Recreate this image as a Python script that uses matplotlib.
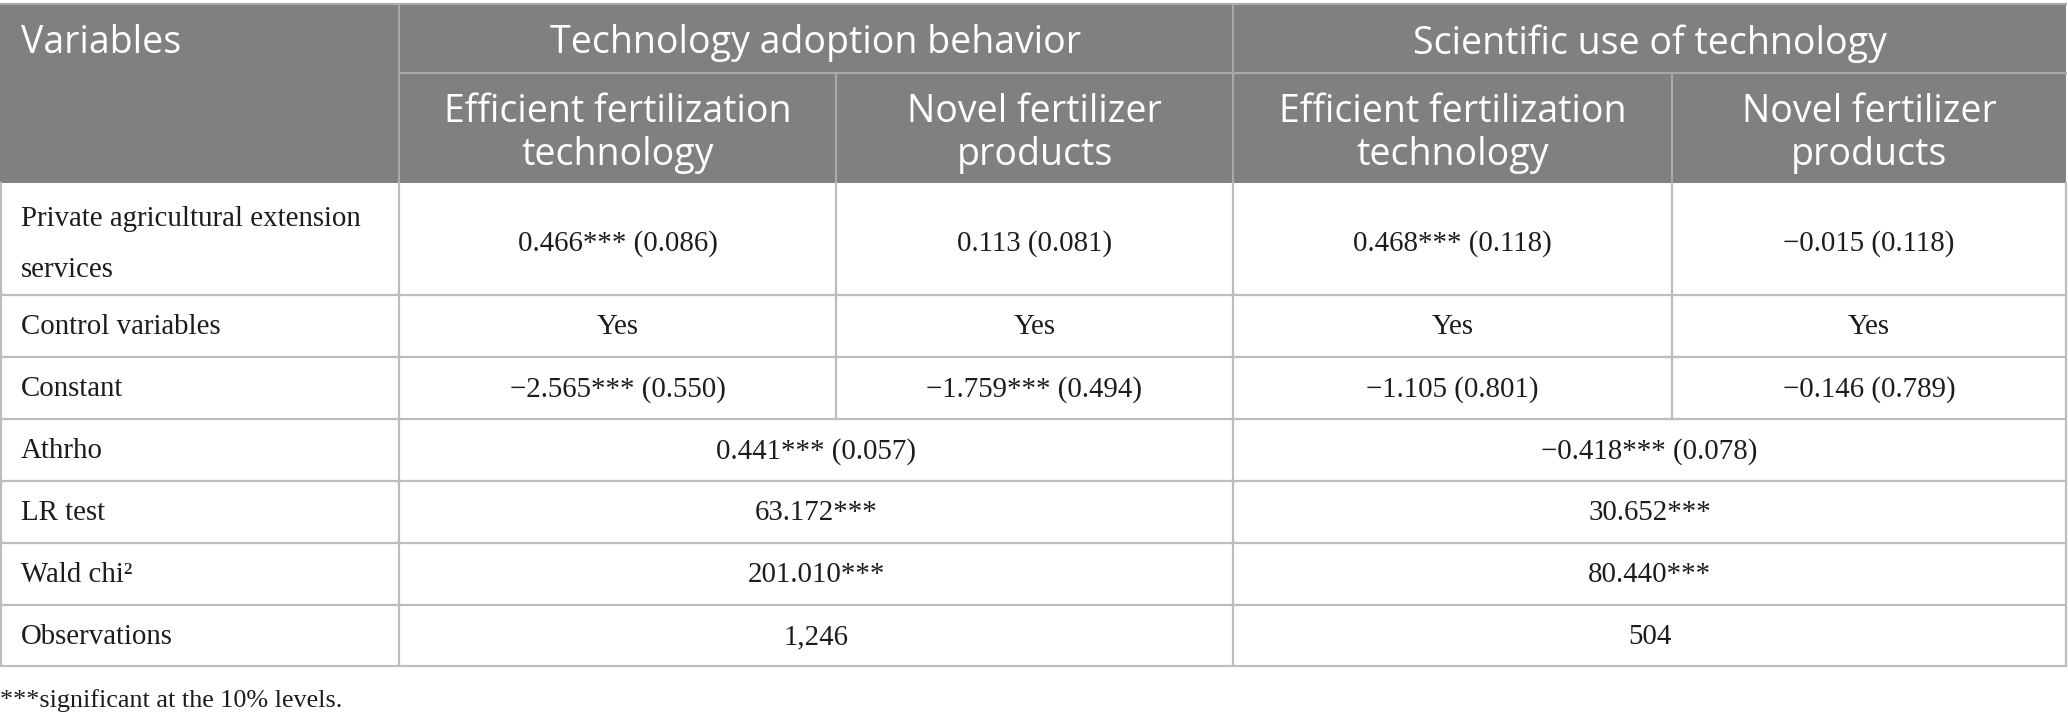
import matplotlib
matplotlib.use("Agg")
import matplotlib.pyplot as plt
from matplotlib.patches import Rectangle

# ---------------- data ----------------
group_headers = ["Technology adoption behavior", "Scientific use of technology"]
sub_headers = ["Efficient fertilization\ntechnology", "Novel fertilizer\nproducts",
               "Efficient fertilization\ntechnology", "Novel fertilizer\nproducts"]
first_col_header = "Variables"

row_labels_4col = ["Private agricultural extension\nservices", "Control variables", "Constant"]
values_4col = [
    ["0.466*** (0.086)", "0.113 (0.081)", "0.468*** (0.118)", "\u22120.015 (0.118)"],
    ["Yes", "Yes", "Yes", "Yes"],
    ["\u22122.565*** (0.550)", "\u22121.759*** (0.494)", "\u22121.105 (0.801)", "\u22120.146 (0.789)"],
]
row_labels_2col = ["Athrho", "LR test", "Wald chi\u00b2", "Observations"]
values_2col = [
    ["0.441*** (0.057)", "\u22120.418*** (0.078)"],
    ["63.172***", "30.652***"],
    ["201.010***", "80.440***"],
    ["1,246", "504"],
]
footnote = "***significant at the 10% levels."

# ---------------- layout (pixels) ----------------
W, H = 2068, 720
col_x = [0, 399, 836, 1233, 1672, 2066]
hdr_y = [4, 72.5, 182.5]
row_bounds = [182.5, 294.5, 356.5, 418.5, 480.5, 542.5, 604.5, 665.5]

hdr_color = "#808080"
hdr_line = "#a9a9a9"
body_line = "#bdbdbd"
text_color = "#1c1c1c"
hdr_font = ["Open Sans", "DejaVu Sans"]
body_font = ["Liberation Serif", "DejaVu Serif"]
hdr_fs = 27
body_fs = 20.8

fig = plt.figure(figsize=(W / 100, H / 100), dpi=100)
ax = fig.add_axes([0, 0, 1, 1])
ax.set_xlim(0, W)
ax.set_ylim(H, 0)
ax.axis("off")

# header background
ax.add_patch(Rectangle((col_x[0], hdr_y[0]), col_x[-1] - col_x[0], hdr_y[2] - hdr_y[0],
                       facecolor=hdr_color, edgecolor="none", zorder=1))
# header lines
ax.plot([col_x[0], col_x[-1]], [hdr_y[0], hdr_y[0]], color=hdr_line, lw=1.5, zorder=2)
ax.plot([col_x[1], col_x[-1]], [hdr_y[1], hdr_y[1]], color=hdr_line, lw=1.5, zorder=2)
for xi in [col_x[1], col_x[3]]:
    ax.plot([xi, xi], [hdr_y[0], hdr_y[2]], color=hdr_line, lw=1.5, zorder=2)
for xi in [col_x[2], col_x[4]]:
    ax.plot([xi, xi], [hdr_y[1], hdr_y[2]], color=hdr_line, lw=1.5, zorder=2)

# header texts
ax.text(21, (hdr_y[0] + hdr_y[1]) / 2 + 5, first_col_header, ha="left", va="center",
        fontsize=hdr_fs, color="white", family=hdr_font, zorder=3)
for g, label in enumerate(group_headers):
    cx = (col_x[1 + 2 * g] + col_x[3 + 2 * g]) / 2
    ax.text(cx, (hdr_y[0] + hdr_y[1]) / 2 + 5, label, ha="center", va="center",
            fontsize=hdr_fs, color="white", family=hdr_font, zorder=3)
for i, label in enumerate(sub_headers):
    cx = (col_x[1 + i] + col_x[2 + i]) / 2
    ax.text(cx, (hdr_y[1] + hdr_y[2]) / 2 + 6, label, ha="center", va="center",
            fontsize=hdr_fs, color="white", family=hdr_font, linespacing=1.2, zorder=3)

# body lines
for yb in row_bounds[1:]:
    ax.plot([col_x[0], col_x[-1]], [yb, yb], color=body_line, lw=1.6, zorder=2)
ax.plot([col_x[0] + 1, col_x[0] + 1], [row_bounds[0], row_bounds[-1]], color=body_line, lw=1.6, zorder=2)
ax.plot([col_x[-1], col_x[-1]], [row_bounds[0], row_bounds[-1]], color=body_line, lw=1.6, zorder=2)
ax.plot([col_x[1], col_x[1]], [row_bounds[0], row_bounds[-1]], color=body_line, lw=1.6, zorder=2)
ax.plot([col_x[3], col_x[3]], [row_bounds[0], row_bounds[-1]], color=body_line, lw=1.6, zorder=2)
for xi in [col_x[2], col_x[4]]:
    ax.plot([xi, xi], [row_bounds[0], row_bounds[3]], color=body_line, lw=1.6, zorder=2)

# body texts
for r, label in enumerate(row_labels_4col):
    y0, y1 = row_bounds[r], row_bounds[r + 1]
    cy = (y0 + y1) / 2 + 2
    ax.text(21, cy + (4 if r == 0 else 0), label, ha="left", va="center", fontsize=body_fs,
            color=text_color, family=body_font, linespacing=2.25, zorder=3)
    for c, val in enumerate(values_4col[r]):
        cx = (col_x[1 + c] + col_x[2 + c]) / 2
        ax.text(cx, cy + (3 if r == 0 else 0), val, ha="center", va="center", fontsize=body_fs,
                color=text_color, family=body_font, zorder=3)
for r, label in enumerate(row_labels_2col):
    y0, y1 = row_bounds[3 + r], row_bounds[4 + r]
    cy = (y0 + y1) / 2 + 2
    ax.text(21, cy, label, ha="left", va="center", fontsize=body_fs, color=text_color,
            family=body_font, zorder=3)
    for c, val in enumerate(values_2col[r]):
        cx = (col_x[1 + 2 * c] + col_x[3 + 2 * c]) / 2
        ax.text(cx, cy, val, ha="center", va="center", fontsize=body_fs, color=text_color,
                family=body_font, zorder=3)

ax.text(0, 701, footnote, ha="left", va="center", fontsize=18.8, color=text_color,
        family=body_font, zorder=3)

fig.savefig("out.png", dpi=100)
